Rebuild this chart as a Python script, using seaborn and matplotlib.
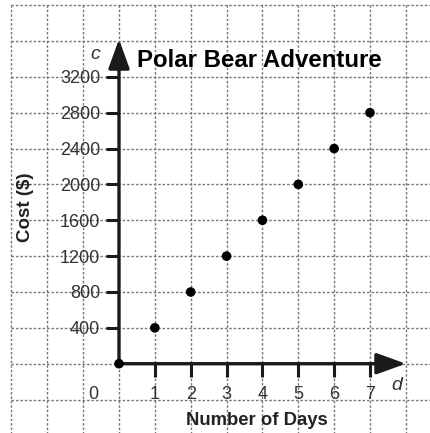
import numpy as np
import matplotlib.pyplot as plt
import seaborn as sns

days = [0, 1, 2, 3, 4, 5, 6, 7]
cost = [0, 400, 800, 1200, 1600, 2000, 2400, 2800]
x_ticks = [1, 2, 3, 4, 5, 6, 7]
y_ticks = [400, 800, 1200, 1600, 2000, 2400, 2800, 3200]
grid_x = np.arange(-3, 9)
grid_y = np.arange(-800, 4400, 400)

sns.set_style("white")
plt.rcParams["font.family"] = ["Liberation Sans", "DejaVu Sans"]

fig = plt.figure(figsize=(4.3, 4.33), dpi=100)
ax = fig.add_axes([0, 0, 1, 1])
ax.set_xlim(-3.318, 8.673)
ax.set_ylim(-773, 4057)

# dotted graph-paper grid
ax.vlines(grid_x, grid_y[0], grid_y[-1], colors="#777777", lw=1.0,
          linestyles=(0, (1.8, 1.4)), zorder=0)
ax.hlines(grid_y, grid_x[0], 9, colors="#777777", lw=1.0,
          linestyles=(0, (1.8, 1.4)), zorder=0)

# axes with arrowheads
for sp in ax.spines.values():
    sp.set_visible(False)
ax.spines["left"].set_position(("data", 0))
ax.spines["bottom"].set_position(("data", 0))
arrow = dict(arrowstyle="-|>,head_length=1.8,head_width=0.65", lw=2.4,
             color="#1a1a1a", mutation_scale=10, shrinkA=0, shrinkB=0)
ax.annotate("", xy=(8, 0), xytext=(0, 0), arrowprops=arrow)
ax.annotate("", xy=(0, 3620), xytext=(0, 0), arrowprops=arrow)

sns.scatterplot(x=days, y=cost, color="black", s=48, edgecolor="none",
                zorder=5, ax=ax)

ax.set_xticks(x_ticks)
ax.set_yticks(y_ticks)
ax.tick_params(axis="both", direction="out", length=9.4, width=2.2,
               color="#1a1a1a", labelsize=13, labelcolor="#333333",
               bottom=True, left=True)
ax.tick_params(axis="x", pad=6.5)
ax.tick_params(axis="y", pad=4.0)
ax.set_xlabel("")
ax.set_ylabel("")

ax.text(0.319, 0.861, "Polar Bear Adventure", transform=ax.transAxes,
        ha="left", va="center", fontsize=17.3, fontweight="bold", color="black")
ax.text(0.060, 0.522, "Cost ($)", transform=ax.transAxes, rotation=90,
        ha="center", va="center", fontsize=13.5, fontweight="bold", color="#222222")
ax.text(0.598, 0.028, "Number of Days", transform=ax.transAxes,
        ha="center", va="center", fontsize=13.3, fontweight="bold", color="#222222")
ax.text(0.221, 0.873, "c", transform=ax.transAxes, ha="center", va="center",
        fontsize=14, style="italic", color="#333333")
ax.text(0.923, 0.109, "d", transform=ax.transAxes, ha="center", va="center",
        fontsize=14, style="italic", color="#333333")
ax.text(0.216, 0.088, "0", transform=ax.transAxes, ha="center", va="center",
        fontsize=13, color="#333333")

fig.savefig("out.png", dpi=100)
